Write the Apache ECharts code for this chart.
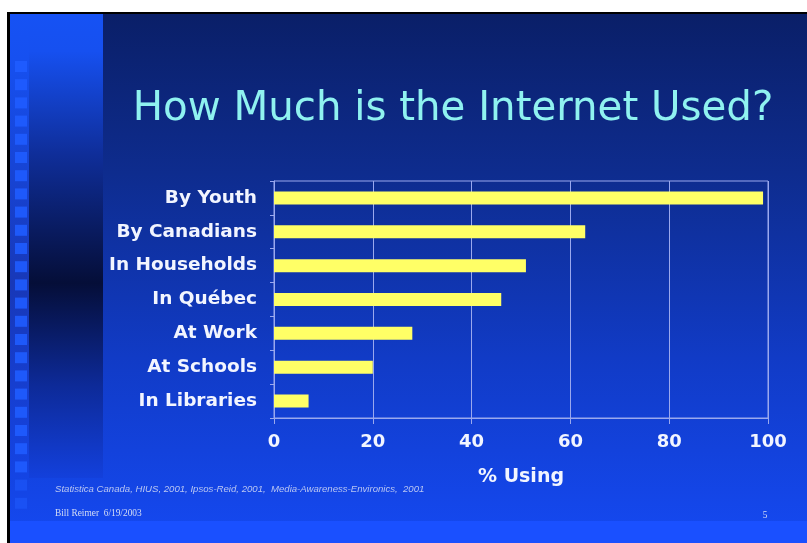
<!DOCTYPE html>
<html>
<head>
<meta charset="utf-8">
<title>How Much is the Internet Used?</title>
<script src="https://cdn.jsdelivr.net/npm/echarts@6/dist/echarts.min.js"></script>
<style>
  html, body { margin: 0; padding: 0; background: #ffffff; }
  #chart { width: 807px; height: 543px; }
</style>
</head>
<body>
<div id="chart"></div>
<script>
// Internet usage by setting (% using)
const categories = ['By Youth', 'By Canadians', 'In Households', 'In Québec', 'At Work', 'At Schools', 'In Libraries'];
const usage = [99, 63, 51, 46, 28, 20, 7];
const xTicks = { min: 0, max: 100, interval: 20 };

const titleText = 'How Much is the Internet Used?';
const sourceText = 'Statistica Canada, HIUS, 2001, Ipsos-Reid, 2001,  Media-Awareness-Environics,  2001';
const authorText = 'Bill Reimer  6/19/2003';
const pageNumber = '5';

const lineColor = '#9aa8ee';
const labelFont = '"DejaVu Sans", Verdana, sans-serif';

// slide decoration: frame, gradient panels and the column of small squares
const decor = [];
decor.push({ type: 'rect', z: -10, shape: { x: 7, y: 12, width: 800, height: 531 }, style: { fill: '#000000' } });
decor.push({
  type: 'rect', z: -9, shape: { x: 10, y: 14, width: 797, height: 529 },
  style: { fill: new echarts.graphic.LinearGradient(0, 0, 0, 1, [
    { offset: 0, color: '#0a1f68' },
    { offset: 0.3, color: '#0e2c8e' },
    { offset: 0.65, color: '#113bc6' },
    { offset: 1, color: '#1549f2' }
  ]) }
});
decor.push({ type: 'rect', z: -8, shape: { x: 10, y: 521, width: 797, height: 22 }, style: { fill: '#1a50ff' } });
decor.push({
  type: 'rect', z: -8, shape: { x: 10, y: 14, width: 93, height: 464 },
  style: { fill: new echarts.graphic.LinearGradient(0, 0, 0, 1, [
    { offset: 0, color: '#1652f4' },
    { offset: 0.08, color: '#1650f0' },
    { offset: 0.3, color: '#0f2e9a' },
    { offset: 0.58, color: '#050e38' },
    { offset: 0.8, color: '#0d2a98' },
    { offset: 1, color: '#1340dc' }
  ]) }
});
decor.push({
  type: 'rect', z: -7, shape: { x: 10, y: 14, width: 19, height: 464 },
  style: { fill: new echarts.graphic.LinearGradient(0, 0, 0, 1, [
    { offset: 0, color: '#1652f4' },
    { offset: 0.1, color: '#1650f0' },
    { offset: 0.58, color: '#1838b8' },
    { offset: 1, color: '#1444e4' }
  ]) }
});
for (let y = 61; y < 500; y += 18.2) {
  decor.push({ type: 'rect', z: -6, shape: { x: 15, y: y, width: 12, height: 11 }, style: { fill: '#1f5cff', opacity: y > 470 ? 0.5 : 0.9 } });
}
decor.push({
  type: 'text', z: 5, x: 453, y: 110,
  style: { text: titleText, fill: '#8ff2f0', font: '40.3px "DejaVu Sans", Tahoma, sans-serif', textAlign: 'center', textVerticalAlign: 'middle' }
});
decor.push({
  type: 'text', z: 5, x: 55, y: 489,
  style: { text: sourceText, fill: '#b9c6f2', font: 'italic 9.6px "Liberation Sans", Arial, sans-serif', textVerticalAlign: 'middle' }
});
decor.push({
  type: 'text', z: 5, x: 55, y: 514,
  style: { text: authorText, fill: '#d4dcf4', font: '9.4px "Liberation Serif", "Times New Roman", serif', textVerticalAlign: 'middle' }
});
decor.push({
  type: 'text', z: 5, x: 765, y: 516,
  style: { text: pageNumber, fill: '#d4dcf4', font: '9.4px "Liberation Serif", "Times New Roman", serif', textAlign: 'center', textVerticalAlign: 'middle' }
});

const chart = echarts.init(document.getElementById('chart'), null, { renderer: 'canvas' });
chart.setOption({
  animation: false,
  backgroundColor: 'transparent',
  graphic: decor,
  grid: {
    left: 274, right: 39, top: 181, bottom: 125,
    show: true, borderColor: lineColor, borderWidth: 1, backgroundColor: 'transparent'
  },
  xAxis: {
    type: 'value',
    min: xTicks.min, max: xTicks.max, interval: xTicks.interval,
    name: '% Using',
    nameLocation: 'middle',
    nameGap: 50,
    nameTextStyle: { color: '#f2f5ff', fontFamily: labelFont, fontWeight: 'bold', fontSize: 19 },
    axisLine: { show: true, lineStyle: { color: lineColor, width: 1 } },
    axisTick: { show: true, length: 6, lineStyle: { color: lineColor } },
    axisLabel: { color: '#f2f5ff', fontFamily: labelFont, fontWeight: 'bold', fontSize: 18, margin: 15 },
    splitLine: { show: true, lineStyle: { color: lineColor, width: 1 } }
  },
  yAxis: {
    type: 'category',
    data: categories,
    inverse: true,
    axisLine: { show: true, lineStyle: { color: lineColor, width: 1 } },
    axisTick: { show: true, length: 4, lineStyle: { color: lineColor } },
    axisLabel: { color: '#f2f5ff', fontFamily: labelFont, fontWeight: 'bold', fontSize: 18.5, margin: 17 },
    splitLine: { show: false }
  },
  series: [{
    type: 'bar',
    data: usage,
    barWidth: 13,
    itemStyle: { color: '#ffff66' },
    z: 3
  }]
});
</script>
</body>
</html>
